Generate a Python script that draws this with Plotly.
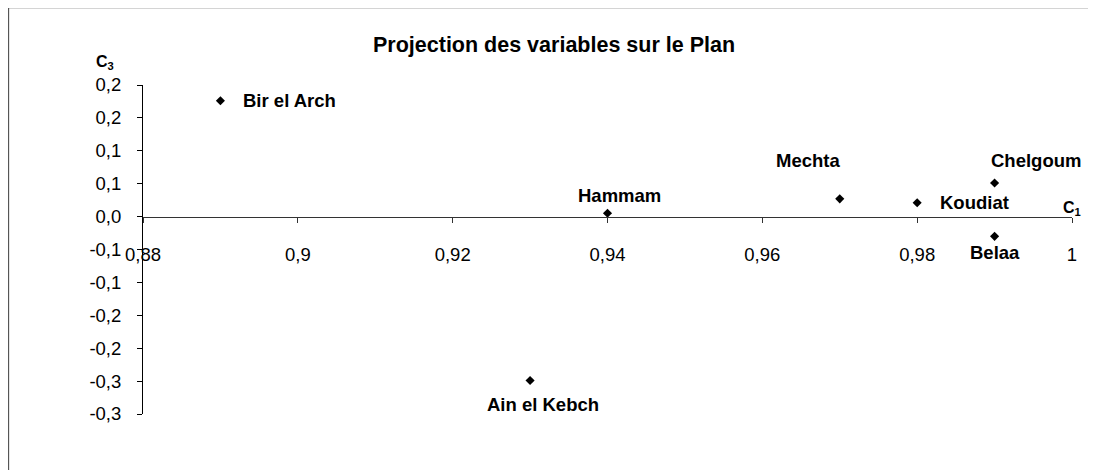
import plotly.graph_objects as go

# ---- data ----
stations = ["Bir el Arch", "Hammam", "Ain el Kebch", "Mechta", "Koudiat", "Chelgoum", "Belaa"]
c1_values = [0.89, 0.94, 0.93, 0.97, 0.98, 0.99, 0.99]
c3_values = [0.176, 0.005, -0.249, 0.027, 0.021, 0.051, -0.030]

x_tick_values = [0.88, 0.90, 0.92, 0.94, 0.96, 0.98, 1.00]
x_tick_labels = ["0,88", "0,9", "0,92", "0,94", "0,96", "0,98", "1"]
y_tick_values = [0.20, 0.15, 0.10, 0.05, 0.00, -0.05, -0.10, -0.15, -0.20, -0.25, -0.30]
y_tick_labels = ["0,2", "0,2", "0,1", "0,1", "0,0", "-0,1", "-0,1", "-0,2", "-0,2", "-0,3", "-0,3"]

title_text = "Projection des variables sur le Plan"

# ---- label placement (pixel offsets, style only) ----
label_style = {
    "Bir el Arch": dict(xshift=21, yshift=0, xanchor="left"),
    "Hammam": dict(xshift=12, yshift=18, xanchor="center"),
    "Ain el Kebch": dict(xshift=13, yshift=-24, xanchor="center"),
    "Mechta": dict(xshift=-32, yshift=38, xanchor="center"),
    "Koudiat": dict(xshift=21, yshift=0, xanchor="left"),
    "Chelgoum": dict(xshift=41, yshift=23, xanchor="center"),
    "Belaa": dict(xshift=0, yshift=-16, xanchor="center"),
}

FONT = "Liberation Sans, Arial, sans-serif"
W, H = 1096, 470
OFF = 8  # page body margin
L, R, T, B = 135, 32, 77, 64
pw = W - L - R
ph = H - T - B


def px(xpage):
    return (xpage - OFF - L) / pw


def py(ypage):
    return (H - B - (ypage - OFF)) / ph


x_range = [0.88, 1.00]
y_range = [-0.30, 0.20]

fig = go.Figure()
fig.add_trace(go.Scatter(
    x=c1_values, y=c3_values, mode="markers",
    marker=dict(symbol="diamond", size=7, color="black"),
    showlegend=False, hoverinfo="skip",
))

annotations = []
for name, xv, yv in zip(stations, c1_values, c3_values):
    st = label_style[name]
    annotations.append(dict(
        x=xv, y=yv, xref="x", yref="y", text="<b>%s</b>" % name,
        showarrow=False, xshift=st["xshift"], yshift=st["yshift"],
        xanchor=st["xanchor"], yanchor="middle",
        font=dict(family=FONT, size=18.5, color="black"),
    ))

annotations.append(dict(
    x=px(554), y=py(45), xref="paper", yref="paper",
    text="<b>%s</b>" % title_text, showarrow=False,
    xanchor="center", yanchor="middle",
    font=dict(family=FONT, size=21.5, color="black"),
))
annotations.append(dict(
    x=px(105), y=py(63), xref="paper", yref="paper",
    text="<b>C<sub>3</sub></b>", showarrow=False,
    xanchor="center", yanchor="middle",
    font=dict(family=FONT, size=16, color="black"),
))
annotations.append(dict(
    x=px(1072), y=py(208), xref="paper", yref="paper",
    text="<b>C<sub>1</sub></b>", showarrow=False,
    xanchor="center", yanchor="middle",
    font=dict(family=FONT, size=16, color="black"),
))

shapes = [
    dict(type="line", xref="paper", yref="paper",
         x0=px(8), x1=px(W + 20), y0=py(7.5), y1=py(7.5),
         line=dict(color="#555555", width=1.3)),
    dict(type="line", xref="paper", yref="paper",
         x0=px(8.5), x1=px(8.5), y0=py(7.5), y1=py(H + 20),
         line=dict(color="#555555", width=1.3)),
]

x_axis_pos = (0 - y_range[0]) / (y_range[1] - y_range[0])

fig.update_layout(
    width=W, height=H,
    margin=dict(l=L, r=R, t=T, b=B, pad=0),
    paper_bgcolor="white", plot_bgcolor="white",
    font=dict(family=FONT, size=18.5, color="black"),
    annotations=annotations, shapes=shapes,
    xaxis=dict(
        range=x_range, tickvals=x_tick_values, ticktext=x_tick_labels,
        showgrid=False, zeroline=False, showline=True, linecolor="#333333", linewidth=1,
        ticks="outside", ticklen=5, tickcolor="#333333",
        anchor="free", position=x_axis_pos, ticklabelstandoff=16,
        tickfont=dict(family=FONT, size=18.5, color="black"),
    ),
    yaxis=dict(
        range=y_range, tickvals=y_tick_values, ticktext=y_tick_labels,
        showgrid=False, zeroline=False, showline=True, linecolor="black", linewidth=1,
        ticks="outside", ticklen=5, tickcolor="black", ticklabelstandoff=12,
        tickfont=dict(family=FONT, size=18.5, color="black"),
    ),
)

fig.write_html("out.html")
